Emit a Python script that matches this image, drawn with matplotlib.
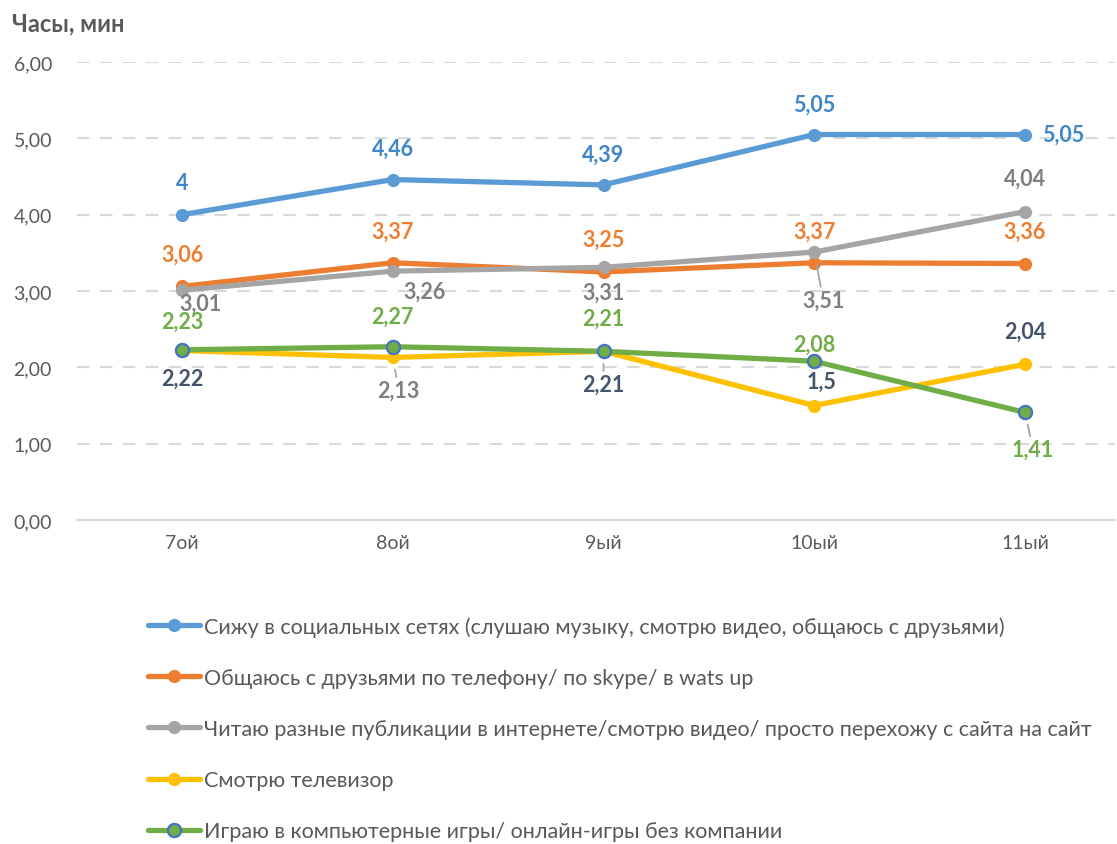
import matplotlib
matplotlib.use("Agg")
import matplotlib.pyplot as plt

categories = ["7ой", "8ой", "9ый", "10ый", "11ый"]
social = [4, 4.46, 4.39, 5.05, 5.05]
phone = [3.06, 3.37, 3.25, 3.37, 3.36]
reading = [3.01, 3.26, 3.31, 3.51, 4.04]
tv = [2.22, 2.13, 2.21, 1.5, 2.04]
games = [2.23, 2.27, 2.21, 2.08, 1.41]
labels = [
    "Сижу в социальных сетях (слушаю музыку, смотрю видео, общаюсь с друзьями)",
    "Общаюсь с друзьями по телефону/ по skype/ в wats up",
    "Читаю разные публикации в интернете/смотрю видео/ просто перехожу с сайта на сайт",
    "Смотрю телевизор",
    "Играю в компьютерные игры/ онлайн-игры без компании",
]
yticks = [0, 1, 2, 3, 4, 5, 6]

plt.rcParams['font.family'] = ['Lato', 'DejaVu Sans']

W, H = 1117, 845
fig = plt.figure(figsize=(W / 100, H / 100), dpi=100)
L, R, T, B = 77, 1115, 63, 521
ax = fig.add_axes([L / W, 1 - B / H, (R - L) / W, (B - T) / H])

x = list(range(len(categories)))
series = [
    (social, "#5B9BD5", "#5B9BD5"),
    (phone, "#ED7D31", "#ED7D31"),
    (reading, "#A5A5A5", "#A5A5A5"),
    (tv, "#FFC000", "#FFC000"),
    (games, "#70AD47", "#4472C4"),
]
handles = []
for (vals, c, ec), lab in zip(series, labels):
    h, = ax.plot(x, vals, color=c, lw=3.8, marker='o', ms=9.5, mfc=c, mec=ec,
                 mew=1.6 if ec != c else 0, solid_capstyle='round', label=lab, zorder=3)
    handles.append(h)

spacing = 210.75
ax.set_xlim((L - 182) / spacing, (R - 182) / spacing)
ax.set_ylim(0, 6)
ax.set_yticks(yticks)
ax.set_yticklabels([f"{v:.2f}".replace('.', ',') for v in yticks], color="#595959", fontsize=14)
ax.set_xticks(x)
ax.set_xticklabels(categories, color="#595959", fontsize=14)
ax.tick_params(length=0, pad=10)
ax.tick_params(axis='y', pad=18)
for s in ['top', 'right', 'left']:
    ax.spines[s].set_visible(False)
ax.spines['bottom'].set_color("#D9D9D9")
ax.spines['bottom'].set_linewidth(1.5)
for v in yticks[1:]:
    ax.axhline(v, color="#D9D9D9", lw=1.5, ls=(0, (6, 5)), zorder=1)

fig.text(12 / W, 1 - 24 / H, "Часы, мин", fontsize=17, fontweight='bold', color="#595959", va='center')

def fmt(v):
    return f"{v:g}".replace('.', ',')

def lab(i, vals, dx, dy, color, leader=False):
    kw = dict(textcoords='offset pixels', xytext=(dx, dy), ha='center', va='center',
              fontsize=15.5, fontweight='bold', color=color, zorder=5)
    if leader:
        kw['arrowprops'] = dict(arrowstyle='-', color="#A5A5A5", lw=1.3, shrinkA=0, shrinkB=9)
    ax.annotate(fmt(vals[i]), (x[i], vals[i]), **kw)

blue_c = "#3F86C8"
for i, (dx, dy) in enumerate([(0, 32), (0, 31), (0, 31), (0, 30), (38, 0)]):
    lab(i, social, dx, dy, blue_c)
for i, (dx, dy) in enumerate([(0, 32), (0, 32), (0, 33), (0, 32), (0, 32)]):
    lab(i, phone, dx, dy, "#ED7D31")
gray_pos = [(18, -13), (32, -20), (0, -25), (9, -48, True), (0, 33)]
for i, p in enumerate(gray_pos):
    lab(i, reading, p[0], p[1], "#7F7F7F", leader=len(p) > 2)
green_pos = [(0, 29), (0, 31), (0, 33), (0, 17), (8, -37, True)]
for i, p in enumerate(green_pos):
    lab(i, games, p[0], p[1], "#70AD47", leader=len(p) > 2)
tv_pos = [(0, -28, False, "#44546A"), (6, -33, True, "#7F7F7F"), (0, -33, True, "#44546A"),
          (7, 24, False, "#44546A"), (0, 33, False, "#44546A")]
for i, (dx, dy, ld, c) in enumerate(tv_pos):
    lab(i, tv, dx, dy, c, leader=ld)

fig.legend(handles=handles, labels=labels, loc='upper left',
           bbox_to_anchor=(148 / W, 1 - 617 / H), frameon=False, fontsize=15.5,
           labelcolor="#595959", handlelength=2.4, handletextpad=0.22,
           labelspacing=1.45, borderaxespad=0, borderpad=0)

fig.savefig("out.png", dpi=100)
